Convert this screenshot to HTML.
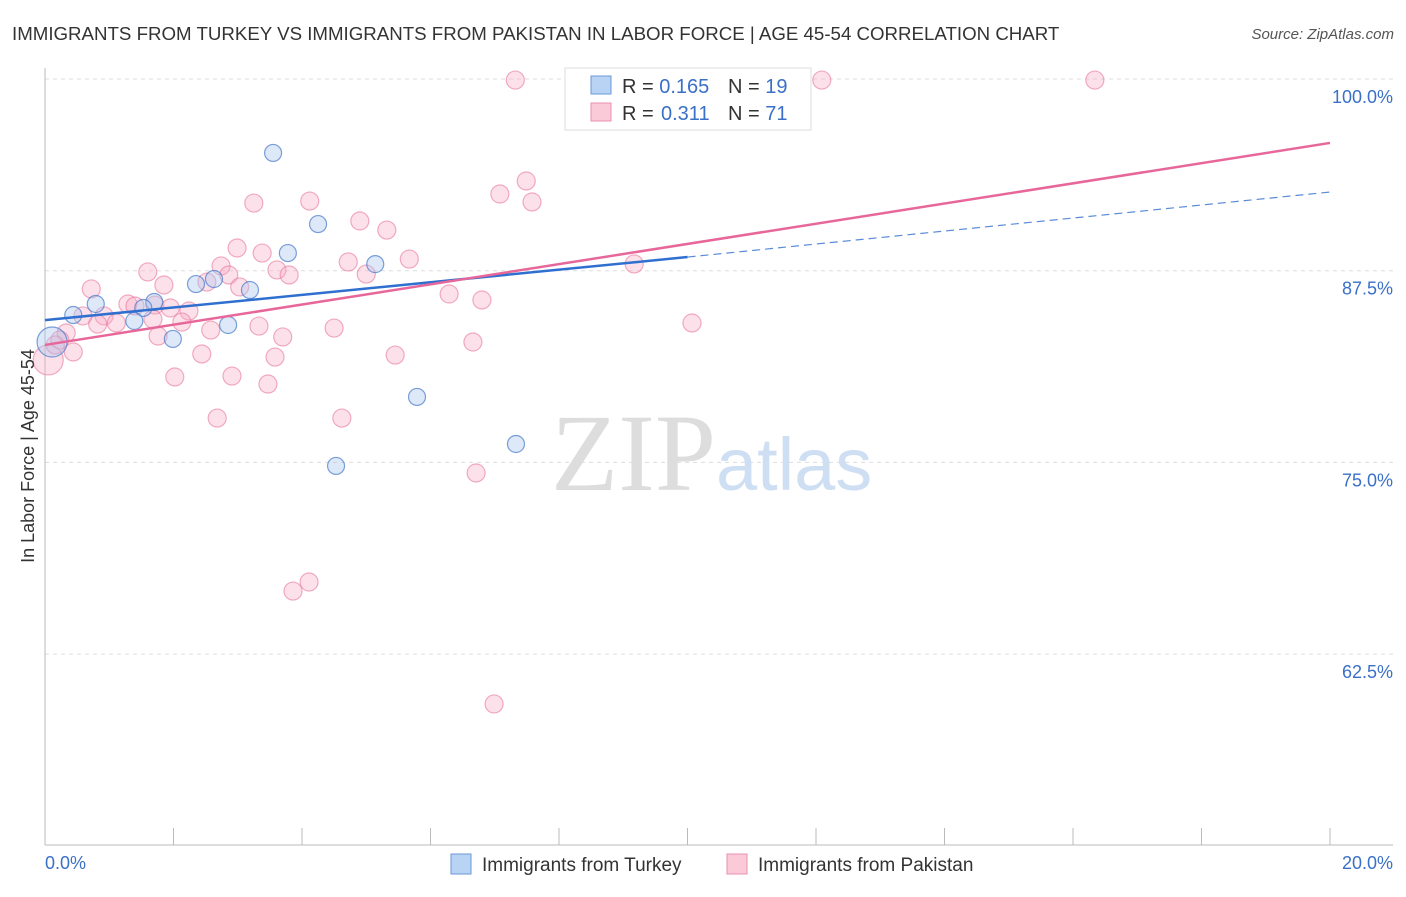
<!DOCTYPE html>
<html><head><meta charset="utf-8"><style>
body{margin:0;background:#fff;font-family:"Liberation Sans",sans-serif;}
</style></head><body>
<svg width="1406" height="892" xmlns="http://www.w3.org/2000/svg">
<text x="12" y="40" font-size="18.7" fill="#333">IMMIGRANTS FROM TURKEY VS IMMIGRANTS FROM PAKISTAN IN LABOR FORCE | AGE 45-54 CORRELATION CHART</text>
<text x="1394" y="39" font-size="15" fill="#555" text-anchor="end" font-style="italic">Source: ZipAtlas.com</text>
<g id="grid"></g>
<text x="716" y="490" font-size="110" fill="#ddd" text-anchor="end" font-family="Liberation Serif">ZIP</text>
<text x="716" y="490" font-size="74" fill="#cfdff3">atlas</text>
<g id="pts"></g>
<g id="lines"></g>
<text transform="translate(34,456) rotate(-90)" font-size="18" fill="#333" text-anchor="middle">In Labor Force | Age 45-54</text>
<g>
<rect x="565" y="68" width="246" height="62" fill="#fff" stroke="#ddd"/>
<rect x="591" y="76" width="20" height="18" fill="#b8d3f3" stroke="#6a9ad8"/>
<rect x="591" y="103" width="20" height="18" fill="#fbcad8" stroke="#e890ab"/>
<text x="622" y="93" font-size="20" fill="#333">R = <tspan fill="#3a70c8">0.165</tspan></text>
<text x="728" y="93" font-size="20" fill="#333">N = <tspan fill="#3a70c8">19</tspan></text>
<text x="622" y="120" font-size="20" fill="#333">R = <tspan x="661" fill="#3a70c8">0.311</tspan></text>
<text x="728" y="120" font-size="20" fill="#333">N = <tspan fill="#3a70c8">71</tspan></text>
</g>
<text x="45" y="869" font-size="18" fill="#3a70c8">0.0%</text>
<text x="1393" y="869" font-size="18" fill="#3a70c8" text-anchor="end">20.0%</text>
<g>
<rect x="451" y="854" width="20" height="20" fill="#b8d3f3" stroke="#6a9ad8"/>
<text x="482" y="871" font-size="19" fill="#333">Immigrants from Turkey</text>
<rect x="727" y="854" width="20" height="20" fill="#fbcad8" stroke="#e890ab"/>
<text x="758" y="871" font-size="19" fill="#333">Immigrants from Pakistan</text>
</g>
</svg>
<script>
const yTicks=[100,87.5,75,62.5];
const yTickLabels=["100.0%","87.5%","75.0%","62.5%"];
const xTicks=[0,2,4,6,8,10,12,14,16,18,20];
const turkeyX=[3.55,4.25,3.78,5.14,3.19,2.63,2.35,1.70,0.79,1.53,0.44,1.39,2.85,1.99,0.11,5.79,7.33,4.53,8.51];
const turkeyY=[95.18,90.54,88.65,87.93,86.24,86.96,86.63,85.46,85.33,85.07,84.61,84.22,83.96,83.05,82.85,79.27,76.20,74.77,99.93];
const turkeyR=[13,13,13,13,13,13,13,13,13,13,13,13,13,13,20,13,13,13,13];
const pakX=[7.32,12.09,16.34,7.49,7.08,7.58,4.12,3.25,4.90,5.32,2.99,3.38,2.74,4.72,5.67,5.00,3.61,3.80,2.86,1.60,2.52,3.03,1.85,0.72,6.29,6.80,9.17,1.29,1.40,1.71,1.95,2.24,0.59,0.92,1.11,0.82,1.68,2.13,3.33,2.58,4.50,1.76,3.70,0.33,0.23,6.66,0.44,2.44,3.58,5.45,0.05,2.02,2.91,3.47,2.68,4.62,10.07,6.71,4.11,3.86,6.99,0.16];
const pakY=[99.93,99.93,99.93,93.35,92.50,91.98,92.04,91.91,90.74,90.15,88.98,88.65,87.81,88.07,88.26,87.28,87.55,87.22,87.22,87.42,86.76,86.44,86.57,86.31,85.98,85.59,87.94,85.33,85.20,85.26,85.07,84.87,84.55,84.55,84.09,84.02,84.35,84.15,83.89,83.63,83.76,83.24,83.18,83.44,82.98,82.85,82.20,82.07,81.87,82.00,81.68,80.57,80.63,80.11,77.89,77.89,84.09,74.31,67.20,66.61,59.25,82.66];
const turkeyLine=[[0,84.28],[10,88.39]];
const turkeyDash=[[10,88.39],[20,92.63]];
const pakLine=[[0,82.66],[20,95.83]];
const X=v=>45+v/20*1285;
const Y=v=>79+(100-v)/12.5*191.7;
const NS="http://www.w3.org/2000/svg";
function mk(tag,attrs,parent){const e=document.createElementNS(NS,tag);for(const k in attrs)e.setAttribute(k,attrs[k]);parent.appendChild(e);return e;}
const g=document.getElementById('grid');
yTicks.forEach((t,i)=>{
 const l=mk('line',{x1:45,x2:1393,y1:Y(t),y2:Y(t),stroke:'#ddd','stroke-dasharray':'4,4'},g);
 
 
 const tx=mk('text',{x:1393,y:Y(t)+24,'font-size':18,fill:'#3a70c8','text-anchor':'end'},g);
 tx.textContent=yTickLabels[i];
 
 
});
const ax=mk('line',{x1:45,x2:45,y1:68,y2:845,stroke:'#bbb'},g);


const bx=mk('line',{x1:45,x2:1393,y1:845,y2:845,stroke:'#bbb'},g);


xTicks.forEach(t=>{
 const l=mk('line',{x1:X(t),x2:X(t),y1:828,y2:845,stroke:'#bbb'},g);
 
 
});
const p=document.getElementById('pts');
pakX.forEach((x,i)=>{
 const c=mk('circle',{cx:X(x),cy:Y(pakY[i]),r:(i==50?15:9),fill:'rgba(248,170,195,0.35)',stroke:'rgba(232,120,155,0.6)','stroke-width':1.2},p);
 
 
});
turkeyX.forEach((x,i)=>{
 const c=mk('circle',{cx:X(x),cy:Y(turkeyY[i]),r:turkeyR[i]==20?15:8.5,fill:'rgba(170,200,240,0.4)',stroke:'rgba(70,120,200,0.7)','stroke-width':1.2},p);
 
 
});
const L=document.getElementById('lines');
let a=mk('line',{x1:X(turkeyLine[0][0]),y1:Y(turkeyLine[0][1]),x2:X(turkeyLine[1][0]),y2:Y(turkeyLine[1][1]),stroke:'#2f6fd0','stroke-width':2.5},L);


a=mk('line',{x1:X(turkeyDash[0][0]),y1:Y(turkeyDash[0][1]),x2:X(turkeyDash[1][0]),y2:Y(turkeyDash[1][1]),stroke:'#5a8ad8','stroke-width':1.2,'stroke-dasharray':'8,5'},L);


a=mk('line',{x1:X(pakLine[0][0]),y1:Y(pakLine[0][1]),x2:X(pakLine[1][0]),y2:Y(pakLine[1][1]),stroke:'#e8679a','stroke-width':2.5},L);


</script>
</body></html>
